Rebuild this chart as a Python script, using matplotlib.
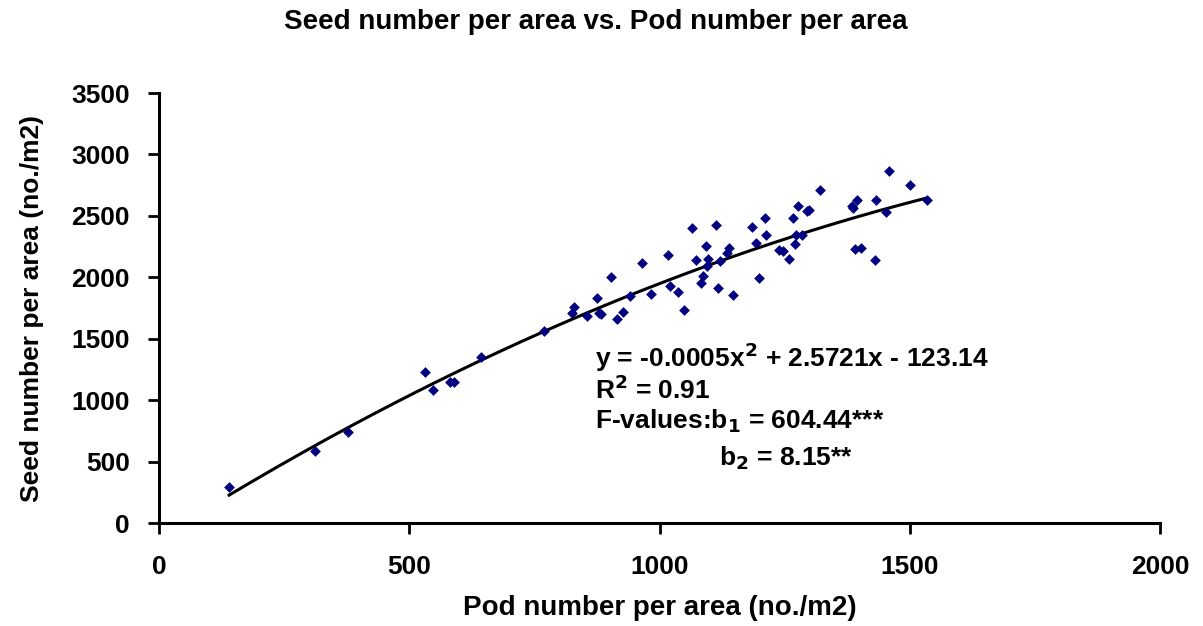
import matplotlib
matplotlib.use("Agg")
import matplotlib.pyplot as plt
import numpy as np

plt.rcParams['font.family'] = ['Liberation Sans', 'DejaVu Sans']
plt.rcParams['font.weight'] = 'bold'

# pod number per area (no./m2) and seed number per area (no./m2)
pods = [140, 312, 378, 531, 548, 581, 590, 643, 769, 826, 829, 855, 876, 879, 884,
        904, 915, 927, 941, 964, 983, 1017, 1021, 1036, 1048, 1065, 1072, 1082,
        1087, 1093, 1095, 1097, 1112, 1117, 1121, 1134, 1139, 1146, 1184, 1193,
        1199, 1211, 1213, 1239, 1247, 1258, 1267, 1271, 1273, 1277, 1285, 1295,
        1299, 1320, 1384, 1387, 1391, 1394, 1403, 1431, 1432, 1452, 1459, 1500,
        1534]
seeds = [290, 586, 741, 1229, 1083, 1148, 1148, 1351, 1563, 1707, 1756, 1685, 1834,
         1709, 1700, 2000, 1663, 1715, 1848, 2114, 1866, 2184, 1929, 1883, 1734,
         2399, 2141, 1956, 2010, 2255, 2094, 2153, 2423, 1915, 2133, 2195, 2241,
         1858, 2412, 2277, 1992, 2485, 2344, 2219, 2216, 2151, 2485, 2271, 2344,
         2583, 2342, 2537, 2548, 2713, 2580, 2561, 2230, 2627, 2238, 2141, 2627,
         2529, 2865, 2751, 2627]

# quadratic trend coefficients as printed on the chart
coef = [-0.0005, 2.5721, -123.14]

fig = plt.figure(figsize=(12.03, 6.26), dpi=100)
ax = fig.add_axes([0.1322, 0.1645, 0.8321, 0.6869])

ax.scatter(pods, seeds, marker='D', s=30, color='#000080', zorder=3, linewidths=0)
xs = np.linspace(min(pods), max(pods), 200)
ax.plot(xs, np.polyval(coef, xs), color='black', lw=2.2, zorder=2)

ax.set_xlim(0, 2000)
ax.set_ylim(0, 3500)
ax.set_xticks([0, 500, 1000, 1500, 2000])
ax.set_yticks(range(0, 3501, 500))
for s in ['top', 'right']:
    ax.spines[s].set_visible(False)
for s in ['left', 'bottom']:
    ax.spines[s].set_linewidth(2.2)
ax.tick_params(axis='both', direction='out', length=8, width=2, labelsize=19)
ax.tick_params(axis='x', pad=15)
ax.tick_params(axis='y', pad=13)

ax.set_xlabel('Pod number per area (no./m2)', fontsize=20, fontweight='bold')
ax.xaxis.set_label_coords(0.5, -0.168)
ax.set_ylabel('Seed number per area (no./m2)', fontsize=19, fontweight='bold')
ax.yaxis.set_label_coords(-0.115, 0.5)
fig.text(0.4955, 0.965, 'Seed number per area vs. Pod number per area', fontsize=20,
         fontweight='bold', ha='center', va='center')

txt = dict(fontsize=19, fontweight='bold', va='center')
ax.text(872, 1350, r'y = -0.0005x$^\mathbf{2}$ + 2.5721x - 123.14', **txt)
ax.text(872, 1085, r'R$^\mathbf{2}$ = 0.91', **txt)
ax.text(872, 830, r'F-values:b$_\mathbf{1}$ = 604.44***', **txt)
ax.text(1118, 530, r'b$_\mathbf{2}$ = 8.15**', **txt)

fig.savefig('out.png', dpi=100)
